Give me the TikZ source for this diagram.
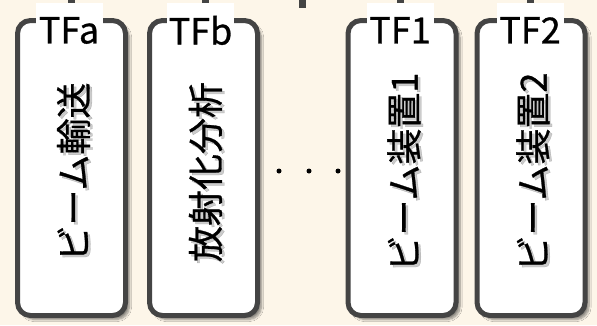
\documentclass[tikz,border=0pt]{standalone}
\usepackage{fontspec}
\setmainfont{Noto Sans CJK JP}[FakeBold=0.8]
\usetikzlibrary{shadows.blur}
\definecolor{bgcol}{HTML}{FDF6E9}
\definecolor{strokecol}{HTML}{444444}
\tikzset{
  tfbox/.style={draw=strokecol, line width=5pt, fill=white, rounded corners=13pt,
    minimum width=108pt, minimum height=295pt, inner sep=0pt,
    blur shadow={shadow xshift=4pt, shadow yshift=-4pt, shadow blur steps=8, shadow opacity=45}},
  tftext/.style={rotate=90, font=\fontsize{36}{40}\selectfont, inner sep=0pt},
  tfshade/.style={tftext, text=black, opacity=0.2},
  tflabel/.style={fill=white, font=\fontsize{36}{40}\selectfont, inner sep=0pt,
    minimum width=67pt, minimum height=54pt, anchor=north, text depth=0pt},
  stub/.style={draw=strokecol, line width=7pt},
  dotmark/.style={circle, fill=black, inner sep=0pt, minimum size=5pt}
}
\begin{document}
\begin{tikzpicture}[x=1pt,y=1pt]
\fill[bgcol] (0,0) rectangle (597,-325);
\useasboundingbox (0,0) rectangle (597,-325);
% stubs from above
\coordinate (sa) at (71.5,0);
\coordinate (sb) at (205,0);
\coordinate (sm) at (302,0);
\coordinate (sme) at (302,-8);
\coordinate (s1) at (400.5,0);
\coordinate (s2) at (530.5,0);
% boxes
\node[tfbox] (tfa) at (71.5,-168) {};
\node[tfbox] (tfb) at (203.5,-168) {};
\node[tfbox] (tf1) at (402,-168) {};
\node[tfbox] (tf2) at (531,-168) {};
% text shadows and text
\foreach \n/\t in {tfa/ビーム輸送, tfb/放射化分析, tf1/ビーム装置1, tf2/ビーム装置2}{
  \node[tfshade] at ([xshift=4.5pt,yshift=-6.5pt]\n.center) {\t};
}
\node[tftext] (ta) at ([xshift=2pt,yshift=-4pt]tfa.center) {ビーム輸送};
\node[tftext] (tb) at ([xshift=2pt,yshift=-4pt]tfb.center) {放射化分析};
\node[tftext] (t1) at ([xshift=2pt,yshift=-4pt]tf1.center) {ビーム装置1};
\node[tftext] (t2) at ([xshift=2pt,yshift=-4pt]tf2.center) {ビーム装置2};
% stubs
\draw[stub] (sa) -- ++(0,-6);
\draw[stub] (sb) -- ++(0,-6);
\draw[stub] (s1) -- ++(0,-6);
\draw[stub] (s2) -- ++(0,-6);
\draw[stub] (sm) -- (sme);
% labels
\node[tflabel] (la) at (69,-3) {TFa};
\node[tflabel] (lb) at (200.5,-3) {TFb};
\node[tflabel] (l1) at (400,-3) {TF1};
\node[tflabel] (l2) at (530,-3) {TF2};
% dots
\node[dotmark] (d1) at (279,-171) {};
\node[dotmark] (d2) at (309,-171) {};
\node[dotmark] (d3) at (338,-171) {};
\end{tikzpicture}
\end{document}
